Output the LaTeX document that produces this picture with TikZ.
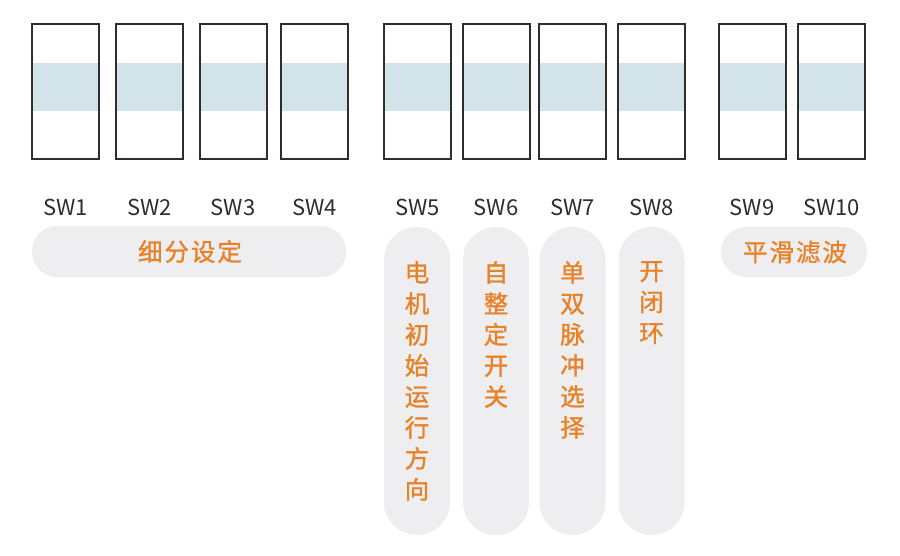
\documentclass[tikz,border=0pt]{standalone}
\usepackage{fontspec}
\setmainfont{Noto Sans CJK SC}
\newfontfamily\cjk[FakeBold=1.2]{Noto Sans CJK SC}
\definecolor{boxline}{RGB}{50,45,45}
\definecolor{bandblue}{RGB}{211,227,234}
\definecolor{pillgray}{RGB}{238,238,240}
\definecolor{lblorange}{RGB}{232,130,40}
\definecolor{lblgray}{RGB}{45,45,45}
\tikzset{
  swbox/.style={draw=boxline, line width=2pt, minimum width=67pt, minimum height=135pt, inner sep=0pt},
  band/.style={fill=bandblue},
  pill/.style={fill=pillgray, rounded corners=25pt, inner sep=0pt},
  vpill/.style={fill=pillgray, rounded corners=33pt, minimum width=66pt, minimum height=308pt, inner sep=0pt},
  swlabel/.style={font=\fontsize{22}{22}\selectfont, text=lblgray, inner sep=0pt, anchor=center},
  hlabel/.style={font=\cjk\fontsize{24.5}{24.5}\selectfont\addfontfeature{LetterSpace=8}, text=lblorange, inner sep=0pt},
  vlabel/.style={font=\cjk\fontsize{24.5}{31}\selectfont, text=lblorange, inner sep=0pt, align=center, anchor=north}
}
\begin{document}
\begin{tikzpicture}[x=1pt,y=-1pt]
\useasboundingbox[fill=white] (0,0) rectangle (900,555);
% switch boxes
\foreach \i/\xl in {1/32,2/116,3/199.5,4/281,5/384,6/462.5,7/539,8/618,9/718.5,10/798}{
  \fill[band] (\xl,63) rectangle ++(67,48);
  \node[swbox] (sw\i) at (\xl+33.5,91.5) {};
  \node[swlabel] (l\i) at (\xl+33.5,207) {SW\i};
}
% horizontal pills
\node[pill, minimum width=314pt, minimum height=51pt] (p14) at (189,251.5) {};
\node[hlabel] (t14) at (190,251.5) {细分设定};
\node[pill, minimum width=146pt, minimum height=50pt] (p910) at (794,252) {};
\node[hlabel] (t910) at (795,252) {平滑滤波};
% vertical pills
\node[vpill] (p5) at (417,381) {};
\node[vpill] (p6) at (496,381) {};
\node[vpill] (p7) at (572.5,381) {};
\node[vpill] (p8) at (651.5,381) {};
\node[vlabel] (t5) at (417,261) {电\\机\\初\\始\\运\\行\\方\\向};
\node[vlabel] (t6) at (496,261) {自\\整\\定\\开\\关};
\node[vlabel] (t7) at (572.5,261) {单\\双\\脉\\冲\\选\\择};
\node[vlabel] (t8) at (651.5,261) {开\\闭\\环};
\end{tikzpicture}
\end{document}
